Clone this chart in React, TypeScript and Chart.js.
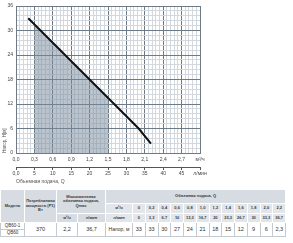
import React, { useEffect, useRef } from "react";
import { Chart, registerables } from "chart.js";
Chart.register(...registerables);

// ---- data ----
const flowM3h = [0, 0.2, 0.4, 0.6, 0.8, 1.0, 1.2, 1.4, 1.6, 1.8, 2.0, 2.2];
const flowM3hLabels = ["0", "0,2", "0,4", "0,6", "0,8", "1,0", "1,2", "1,4", "1,6", "1,8", "2,0", "2,2"];
const flowLminLabels = ["0", "3,3", "6,7", "10", "13,3", "16,7", "20", "23,3", "26,7", "30", "33,3", "36,7"];
const headM = [33, 33, 30, 27, 24, 21, 18, 15, 12, 9, 6, 2.3];
const headLabels = ["33", "33", "30", "27", "24", "21", "18", "15", "12", "9", "6", "2,3"];
const curveStart = 1;
const shadeFrom = 0.3;
const shadeTo = 1.5;

const xTickLabels = ["0,0", "0,3", "0,6", "0,9", "1,2", "1,5", "1,8", "2,1", "2,4", "2,7", "м³/ч"];
const x2TickLabels = ["0,0", "5", "10", "15", "20", "25", "30", "35", "40", "45", "л/мин"];
const yTickLabels = ["0", "6", "12", "18", "24", "30", "36"];
const xMajorStep = 0.3;
const yMajorStep = 6;
const x2MajorStep = 5;
const minorPerMajor = 5;

const modelNames = ["QB60-1", "QB60"];
const powerW = "370";
const qmaxM3h = "2,2";
const qmaxLmin = "36,7";

const FONT = "'Liberation Sans', Arial, sans-serif";
const MAJOR = "#6e7b87";
const MINOR = "#d2d8de";
const TXT = "#444";

const shadePlugin = {
  id: "shade",
  beforeDatasetsDraw(chart: any) {
    const meta = chart.getDatasetMeta(0);
    const { ctx, chartArea, scales } = chart;
    const x0 = scales.x.getPixelForValue(shadeFrom);
    const x1 = scales.x.getPixelForValue(shadeTo);
    const yBase = scales.y.getPixelForValue(0);
    const pts = meta.data;
    if (!pts.length) return;
    ctx.save();
    ctx.beginPath();
    ctx.rect(x0, chartArea.top, x1 - x0, yBase - chartArea.top);
    ctx.clip();
    ctx.beginPath();
    ctx.moveTo(pts[0].x, yBase);
    pts.forEach((p: any) => ctx.lineTo(p.x, p.y));
    ctx.lineTo(pts[pts.length - 1].x, yBase);
    ctx.closePath();
    ctx.fillStyle = "rgba(120,138,155,0.5)";
    ctx.fill();
    ctx.restore();
  },
};

function ChartCanvas() {
  const ref = useRef<HTMLCanvasElement>(null);
  useEffect(() => {
    if (!ref.current) return;
    const points = flowM3h.slice(curveStart).map((q, i) => ({ x: q, y: headM[i + curveStart] }));
    const xMax = xMajorStep * (xTickLabels.length - 1);
    const yMax = yMajorStep * (yTickLabels.length - 1);
    const x2Max = x2MajorStep * (x2TickLabels.length - 1);
    const tickFont = { family: FONT, size: 5 };
    const chart = new Chart(ref.current, {
      type: "scatter",
      data: {
        datasets: [
          {
            data: points,
            showLine: true,
            borderColor: "#111",
            borderWidth: 2,
            pointRadius: 0,
            fill: false,
          } as any,
        ],
      },
      options: {
        animation: false,
        responsive: false,
        devicePixelRatio: 1,
        layout: { padding: { left: 0, top: 6, right: 93, bottom: 0 } },
        plugins: { legend: { display: false }, tooltip: { enabled: false } },
        scales: {
          x: {
            type: "linear",
            position: "bottom",
            weight: 0,
            min: 0,
            max: xMax,
            afterBuildTicks: (s: any) => {
              const n = (xTickLabels.length - 1) * minorPerMajor;
              s.ticks = Array.from({ length: n + 1 }, (_, i) => ({ value: (i * xMajorStep) / minorPerMajor }));
            },
            afterFit: (s: any) => {
              s.height = 14;
            },
            grid: {
              color: (c: any) => (c.index % minorPerMajor === 0 ? MAJOR : MINOR),
              lineWidth: 1,
              drawTicks: false,
            },
            border: { display: true, color: MAJOR },
            ticks: {
              autoSkip: false,
              maxRotation: 0,
              padding: 4,
              color: TXT,
              font: tickFont,
              callback: (_v: any, i: number) => (i % minorPerMajor === 0 ? xTickLabels[i / minorPerMajor] : ""),
            },
          },
          x2: {
            type: "linear",
            position: "bottom",
            weight: 1,
            min: 0,
            max: x2Max,
            afterBuildTicks: (s: any) => {
              s.ticks = x2TickLabels.map((_, i) => ({ value: i * x2MajorStep }));
            },
            afterFit: (s: any) => {
              s.height = 21;
            },
            grid: { drawOnChartArea: false, drawTicks: true, tickLength: 3, color: "#555" },
            border: { display: true, color: "#555" },
            ticks: {
              autoSkip: false,
              maxRotation: 0,
              padding: 1,
              color: TXT,
              font: tickFont,
              callback: (_v: any, i: number) => x2TickLabels[i],
            },
            title: {
              display: true,
              text: "Объемная подача, Q",
              align: "start",
              color: "#555",
              font: { family: FONT, size: 5 },
              padding: { top: 1, bottom: 3 },
            },
          },
          y: {
            type: "linear",
            min: 0,
            max: yMax,
            afterBuildTicks: (s: any) => {
              const n = (yTickLabels.length - 1) * minorPerMajor;
              s.ticks = Array.from({ length: n + 1 }, (_, i) => ({ value: (i * yMajorStep) / minorPerMajor }));
            },
            afterFit: (s: any) => {
              s.width = 16;
            },
            grid: {
              color: (c: any) => (c.index % minorPerMajor === 0 ? MAJOR : MINOR),
              lineWidth: 1,
              drawTicks: false,
            },
            border: { display: true, color: MAJOR },
            ticks: {
              autoSkip: false,
              padding: 3,
              color: TXT,
              font: tickFont,
              callback: (_v: any, i: number) => (i % minorPerMajor === 0 ? yTickLabels[i / minorPerMajor] : ""),
            },
            title: {
              display: true,
              text: "Напор, Н[м]",
              align: "start",
              color: "#555",
              font: { family: FONT, size: 4.5 },
              padding: { top: 2, bottom: 0 },
            },
          },
        },
      } as any,
      plugins: [shadePlugin],
    });
    return () => chart.destroy();
  }, []);
  return <canvas ref={ref} width={293} height={188} style={{ display: "block", width: 293, height: 188 }} />;
}

const hdr: React.CSSProperties = {
  background: "#d6dce1",
  border: "1px solid #ffffff",
  fontWeight: "bold",
  fontSize: 4,
  color: "#3a3a3a",
  padding: 0,
  textAlign: "center",
  verticalAlign: "middle",
  lineHeight: 1.15,
  overflow: "hidden",
};
const sub: React.CSSProperties = { ...hdr, background: "#e2e6ea", fontSize: 4 };
const cell: React.CSSProperties = {
  background: "#fff",
  border: "1px solid #c4cad0",
  fontSize: 5.5,
  color: "#333",
  padding: 0,
  textAlign: "center",
  verticalAlign: "middle",
  lineHeight: 1,
  overflow: "hidden",
};

function SpecTable() {
  const valueWidth = 12.75;
  return (
    <table
      style={{
        position: "absolute",
        left: 0,
        top: 189,
        width: 285,
        borderCollapse: "collapse",
        tableLayout: "fixed",
        fontFamily: FONT,
      }}
    >
      <colgroup>
        <col style={{ width: 24 }} />
        <col style={{ width: 32 }} />
        <col style={{ width: 21 }} />
        <col style={{ width: 28 }} />
        <col style={{ width: 27 }} />
        {flowM3hLabels.map((_, i) => (
          <col key={i} style={{ width: valueWidth }} />
        ))}
      </colgroup>
      <tbody>
        <tr style={{ height: 14 }}>
          <td style={hdr} rowSpan={3}>Модель</td>
          <td style={hdr} rowSpan={3}>
            Потребляемая
            <br />
            мощность (P1)
            <br />
            Вт
          </td>
          <td style={hdr} colSpan={2} rowSpan={2}>
            Максимальная
            <br />
            объемная подача,
            <br />
            Qmax
          </td>
          <td style={hdr} colSpan={13}>Объемная подача, Q</td>
        </tr>
        <tr style={{ height: 10 }}>
          <td style={sub}>м³/ч</td>
          {flowM3hLabels.map((v, i) => (
            <td key={i} style={sub}>{v}</td>
          ))}
        </tr>
        <tr style={{ height: 9 }}>
          <td style={hdr}>м³/ч</td>
          <td style={hdr}>л/мин</td>
          <td style={sub}>л/мин</td>
          {flowLminLabels.map((v, i) => (
            <td key={i} style={sub}>{v}</td>
          ))}
        </tr>
        <tr style={{ height: 14 }}>
          <td style={{ ...cell, fontSize: 4.5 }}>
            <div style={{ height: 6, lineHeight: "6px", borderBottom: "1px solid #c4cad0" }}>{modelNames[0]}</div>
            <div style={{ height: 6, lineHeight: "6px" }}>{modelNames[1]}</div>
          </td>
          <td style={cell}>{powerW}</td>
          <td style={cell}>{qmaxM3h}</td>
          <td style={cell}>{qmaxLmin}</td>
          <td style={{ ...cell, fontSize: 5 }}>Напор, м</td>
          {headLabels.map((v, i) => (
            <td key={i} style={cell}>{v}</td>
          ))}
        </tr>
      </tbody>
    </table>
  );
}

export default function App() {
  return (
    <div
      style={{
        position: "absolute",
        left: 0,
        top: 0,
        width: 293,
        height: 243,
        background: "#fff",
        overflow: "hidden",
        fontFamily: FONT,
      }}
    >
      <ChartCanvas />
      <SpecTable />
    </div>
  );
}
